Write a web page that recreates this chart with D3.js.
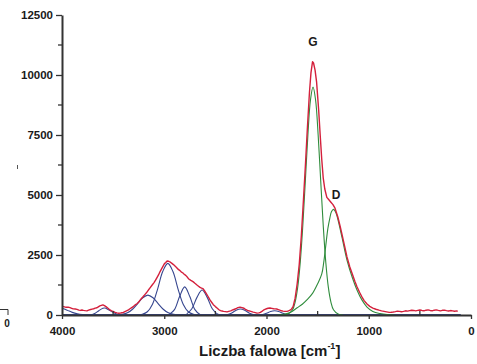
<!DOCTYPE html>
<html>
<head>
<meta charset="utf-8">
<script src="https://cdn.jsdelivr.net/npm/d3@7"></script>
<style>
  html, body { margin: 0; padding: 0; background: #fff; }
  svg { display: block; }
  text { font-family: "Liberation Sans", Arial, sans-serif; font-weight: bold; fill: #1a1a1a; }
</style>
</head>
<body>
<svg id="chart" width="477" height="364"></svg>
<script>
// Raman spectrum: measured curve (red) with fitted components (blue: 2nd-order region, green: G and D bands)
const xTicks = [4000, 3000, 2000, 1000, 0];
const xMinorTicks = [3500, 2500, 1500, 500];
const yTicks = [0, 2500, 5000, 7500, 10000, 12500];
const yMinorTicks = [1250, 3750, 6250, 8750, 11250];
const xTitle = "Liczba falowa [cm";
const xTitleSup = "-1";
const peakLabels = [
  { name: "G", w: 1545, v: 11200 },
  { name: "D", w: 1320, v: 4850 }
];

// measured spectrum [wavenumber, intensity]
const measured = [
  [3995,360],[3975,340],[3960,320],[3940,330],[3922,310],[3905,280],[3890,255],[3870,250],[3853,235],
  [3835,205],[3820,190],[3805,210],[3790,195],[3772,180],[3756,170],[3740,200],[3720,230],[3705,245],
  [3690,260],[3675,285],[3658,300],[3645,340],[3630,380],[3615,400],[3600,420],[3585,390],[3570,350],
  [3550,280],[3531,210],[3515,170],[3500,150],[3480,110],[3462,90],[3445,75],[3430,80],[3415,95],
  [3403,100],[3385,140],[3370,170],[3350,215],[3335,260],[3318,310],[3300,360],[3285,420],[3267,470],
  [3250,540],[3240,600],[3225,680],[3208,760],[3190,850],[3170,950],[3155,1040],[3139,1130],[3120,1240],
  [3100,1350],[3085,1450],[3071,1560],[3055,1680],[3042,1800],[3025,1930],[3010,2050],[2998,2140],
  [2985,2190],[2975,2240],[2963,2250],[2950,2220],[2940,2200],[2925,2150],[2910,2100],[2895,2040],
  [2880,1980],[2865,1910],[2850,1860],[2835,1800],[2817,1750],[2805,1700],[2790,1650],[2775,1580],
  [2760,1500],[2740,1440],[2719,1390],[2700,1320],[2680,1250],[2665,1200],[2650,1150],[2635,1120],
  [2621,1100],[2605,1000],[2590,900],[2570,760],[2553,630],[2535,520],[2520,430],[2500,350],[2484,290],
  [2465,220],[2450,180],[2435,165],[2420,150],[2400,140],[2386,130],[2370,150],[2350,170],[2325,220],
  [2300,260],[2280,310],[2259,330],[2240,310],[2220,280],[2205,230],[2190,200],[2175,175],[2161,160],
  [2145,140],[2130,120],[2110,100],[2093,80],[2075,90],[2060,110],[2045,150],[2030,200],[2015,235],
  [2000,260],[1985,280],[1966,290],[1948,275],[1930,260],[1915,255],[1900,250],[1885,225],[1870,200],
  [1855,175],[1839,160],[1820,150],[1800,150],[1785,170],[1770,200],[1755,250],[1740,350],[1720,700],
  [1700,1300],[1680,2100],[1660,3250],[1640,4700],[1620,6200],[1600,7800],[1580,9270],[1565,10100],
  [1550,10550],[1540,10500],[1525,10200],[1510,9700],[1490,8550],[1475,7500],[1460,6500],[1445,5700],
  [1430,5250],[1410,4900],[1390,4800],[1370,4700],[1350,4600],[1330,4450],[1300,4050],[1280,3700],
  [1260,3330],[1235,2850],[1213,2420],[1185,2000],[1160,1700],[1135,1400],[1115,1180],[1090,950],
  [1070,780],[1045,600],[1017,460],[990,360],[960,290],[930,240],[900,200],[875,170],[850,150],
  [825,130],[800,110],[780,115],[760,125],[740,140],[720,160],[700,150],[680,135],[660,150],[640,175],
  [620,160],[600,180],[580,200],[560,190],[540,170],[520,190],[500,210],[480,190],[460,175],[440,200],
  [420,215],[400,190],[380,175],[360,200],[340,215],[320,190],[300,170],[280,195],[260,205],[240,180],
  [220,165],[200,185],[180,170],[160,155],[140,170],[130,150]
];

// fitted components in the 2nd-order region [wavenumber, intensity]
const blueEdge = [[4000,280],[3950,200],[3900,110],[3850,50],[3800,15],[3750,0]];
const blue3590 = [[3720,0],[3680,60],[3640,180],[3600,280],[3580,290],[3550,230],[3500,110],[3460,30],[3420,0]];
const blue3160 = [[3460,5],[3410,25],[3360,90],[3310,240],[3260,475],[3210,720],[3160,830],[3110,720],
                  [3060,475],[3010,240],[2960,90],[2910,25],[2860,5],[2810,0]];
const blue2965 = [[3265,0],[3215,28],[3165,135],[3115,450],[3065,1080],[3015,1810],[2965,2150],
                  [2915,1810],[2865,1080],[2815,450],[2765,135],[2715,28],[2665,0]];
const blue2800 = [[2950,25],[2900,225],[2850,770],[2800,1170],[2750,770],[2700,225],[2650,25],[2600,0]];
const blue2630 = [[2780,45],[2730,260],[2680,735],[2630,1040],[2580,735],[2530,260],[2480,45],[2430,0]];
const blue2255 = [[2400,0],[2350,60],[2300,190],[2255,250],[2210,190],[2160,60],[2110,0]];
const blue1920 = [[2050,0],[2000,70],[1960,150],[1920,180],[1880,150],[1840,70],[1790,0]];
const baseline = [[4000,0],[100,0]];

// fitted G and D bands [wavenumber, intensity]
const greenG = [[1850,0],[1795,27],[1745,220],[1720,540],[1695,1150],[1670,2190],[1645,3720],[1620,5600],
                [1595,7510],[1570,8960],[1545,9500],[1520,8960],[1495,7510],[1470,5600],[1445,3720],
                [1420,2190],[1395,1150],[1370,540],[1345,220],[1295,27],[1250,0]];
const greenD = [[1900,0],[1850,20],[1800,60],[1750,150],[1700,300],[1650,450],[1600,650],[1550,900],
                [1500,1300],[1460,1700],[1440,2200],[1420,2900],[1400,3600],[1380,4050],[1365,4300],
                [1345,4400],[1320,4250],[1300,3950],[1260,3200],[1213,2290],[1160,1550],[1115,1040],
                [1070,650],[1017,330],[960,150],[890,60],[820,15],[750,0]];

const svg = d3.select("#chart");
const x = d3.scaleLinear().domain([4000, 0]).range([62, 471]);
const y = d3.scaleLinear().domain([0, 12500]).range([315, 15]);

const smooth = d3.line().x(d => x(d[0])).y(d => y(d[1])).curve(d3.curveCatmullRom);
const raw = d3.line().x(d => x(d[0])).y(d => y(d[1]));

const blueColor = "#36468f";
const greenColor = "#2f8c3c";
const redColor = "#d4203c";

// baseline of the fit
svg.append("path").datum(baseline).attr("d", raw)
  .attr("fill", "none").attr("stroke", blueColor).attr("stroke-width", 2);

[blueEdge, blue3590, blue3160, blue2965, blue2800, blue2630, blue2255, blue1920].forEach(c => {
  svg.append("path").datum(c).attr("d", smooth)
    .attr("fill", "none").attr("stroke", blueColor).attr("stroke-width", 1.1);
});

[greenG, greenD].forEach(c => {
  svg.append("path").datum(c).attr("d", smooth)
    .attr("fill", "none").attr("stroke", greenColor).attr("stroke-width", 1.1);
});

svg.append("path").datum(measured).attr("d", raw)
  .attr("fill", "none").attr("stroke", redColor).attr("stroke-width", 1.4)
  .attr("stroke-linejoin", "round");

const fmt = d3.format("d");

// y axis
const yAxis = svg.append("g").attr("transform", "translate(62,0)")
  .call(d3.axisLeft(y).tickValues(yTicks).tickFormat(fmt).tickSize(6).tickSizeOuter(0).tickPadding(3));
yAxis.select(".domain").attr("stroke", "#333").attr("stroke-width", 2);
yAxis.selectAll(".tick line").attr("stroke", "#333").attr("stroke-width", 1.3);
yAxis.selectAll(".tick text").style("font-size", "11.5px").style("font-family", "'Liberation Sans', Arial, sans-serif")
  .style("font-weight", "bold").attr("fill", "#1a1a1a");
svg.append("g").selectAll("line").data(yMinorTicks).join("line")
  .attr("x1", 58).attr("x2", 62).attr("y1", d => y(d)).attr("y2", d => y(d))
  .attr("stroke", "#333").attr("stroke-width", 1.3);

// x axis
const xAxis = svg.append("g").attr("transform", "translate(0,315)")
  .call(d3.axisBottom(x).tickValues(xTicks).tickFormat(fmt).tickSize(4).tickSizeOuter(0).tickPadding(8));
xAxis.select(".domain").attr("stroke", "#333").attr("stroke-width", 2);
xAxis.selectAll(".tick line").attr("stroke", "#333").attr("stroke-width", 1.3);
xAxis.selectAll(".tick text").style("font-size", "11.5px").style("font-family", "'Liberation Sans', Arial, sans-serif")
  .style("font-weight", "bold").attr("fill", "#1a1a1a");
svg.append("g").selectAll("line").data(xMinorTicks).join("line")
  .attr("x1", d => x(d)).attr("x2", d => x(d)).attr("y1", 311).attr("y2", 315)
  .attr("stroke", "#333").attr("stroke-width", 1.3);

// axis title
const title = svg.append("text").attr("x", 199).attr("y", 356).style("font-size", "15px");
title.append("tspan").text(xTitle);
title.append("tspan").attr("dy", -7).style("font-size", "9px").text(xTitleSup);
title.append("tspan").attr("dy", 7).text("]");

// band labels
svg.selectAll(".peak").data(peakLabels).join("text").attr("class", "peak")
  .attr("x", d => x(d.w)).attr("y", d => y(d.v))
  .attr("text-anchor", "middle").style("font-size", "12px").text(d => d.name);

// clipped y-axis title fragment at the left edge
svg.append("path").attr("d", "M0,309.5H8V315").attr("fill", "none").attr("stroke", "#333").attr("stroke-width", 1);
svg.append("text").attr("x", 7).attr("y", 327).attr("text-anchor", "middle").style("font-size", "10px").text("0");
svg.append("line").attr("x1", 17.5).attr("x2", 17.5).attr("y1", 165).attr("y2", 169).attr("stroke", "#555").attr("stroke-width", 1);
</script>
</body>
</html>
